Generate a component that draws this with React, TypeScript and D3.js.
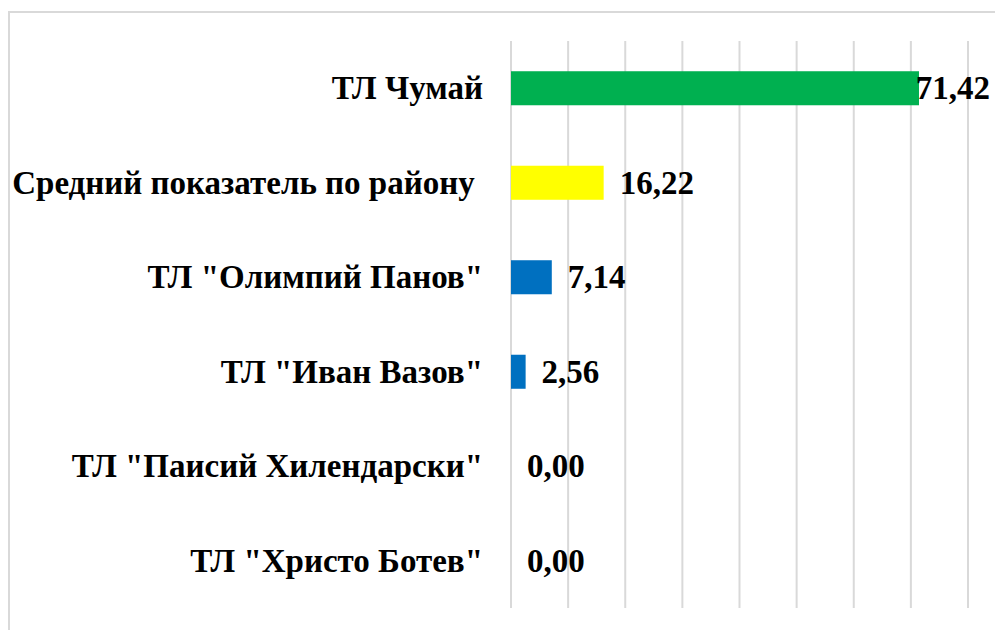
import React from 'react';
import * as d3 from 'd3';

const categories = [
  'ТЛ Чумай',
  'Средний показатель по району\u00A0',
  'ТЛ "Олимпий Панов"',
  'ТЛ "Иван Вазов"',
  'ТЛ "Паисий Хилендарски"',
  'ТЛ "Христо Ботев"',
];
const values = [71.42, 16.22, 7.14, 2.56, 0, 0];
const barColors = ['#00B050', '#FFFF00', '#0070C0', '#0070C0', '#0070C0', '#0070C0'];
const gridTicks = [0, 10, 20, 30, 40, 50, 60, 70, 80];

const W = 995;
const H = 630;
const FS = 33;
const FONT = "'Liberation Serif', 'Times New Roman', Tinos, FreeSerif";

const App = () => {
  const x = d3.scaleLinear().domain([0, 80]).range([511, 968]);
  const y = d3.scaleBand<string>()
    .domain(categories)
    .range([41, 608])
    .paddingInner(0.64)
    .paddingOuter(0.32);

  const fmt = (v: number) => d3.format('.2f')(v).replace('.', ',');

  return (
    <svg width={W} height={H} style={{ position: 'absolute', left: 0, top: 0 }}>
      <style>{`.lbl { font-family: ${FONT}; font-weight: 700; font-size: ${FS}px; }`}</style>
      {/* chart area border, runs off the bottom/right like the original */}
      <rect x={9} y={12} width={W} height={H} fill="#fff" stroke="#d9d9d9" strokeWidth={2} />

      {/* vertical gridlines */}
      {gridTicks.map(t => (
        <line key={t} x1={x(t)} x2={x(t)} y1={41} y2={608} stroke="#d9d9d9" strokeWidth={2} />
      ))}

      {/* bars */}
      {categories.map((c, i) => (
        <rect
          key={c}
          x={x(0)}
          y={y(c)}
          width={x(values[i]) - x(0)}
          height={y.bandwidth()}
          fill={barColors[i]}
        />
      ))}

      {/* category labels */}
      {categories.map(c => (
        <text
          key={c}
          className="lbl"
          x={483}
          y={(y(c) as number) + y.bandwidth() / 2 + 11}
          textAnchor="end"
        >
          {c}
        </text>
      ))}

      {/* value labels: pushed back inside when they would leave the chart */}
      {categories.map((c, i) => {
        const end = x(values[i]) + 16;
        const tooWide = end + 70 > 990;
        return (
          <text
            key={c}
            className="lbl"
            x={tooWide ? 990 : end}
            y={(y(c) as number) + y.bandwidth() / 2 + 11}
            textAnchor={tooWide ? 'end' : 'start'}
          >
            {fmt(values[i])}
          </text>
        );
      })}
    </svg>
  );
};

export default App;
